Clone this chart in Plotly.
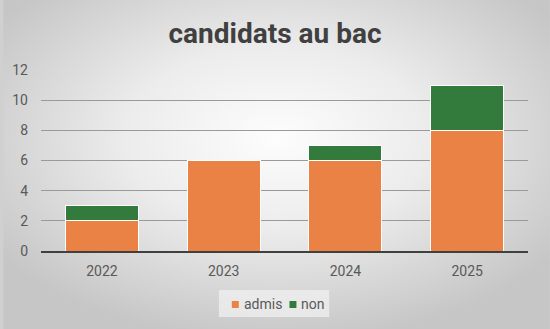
import base64
import plotly.graph_objects as go

years = ["2022", "2023", "2024", "2025"]
admis = [2, 6, 6, 8]
non = [1, 0, 1, 3]
series_names = ["admis", "non"]
series_colors = ["#EA8245", "#337A3D"]
title_text = "candidats au bac"

svg = (
    '<svg xmlns="http://www.w3.org/2000/svg" width="550" height="329" viewBox="0 0 550 329" preserveAspectRatio="none">'
    '<defs><radialGradient id="g" cx="50%" cy="42%" r="62%" gradientUnits="objectBoundingBox">'
    '<stop offset="0" stop-color="#fdfdfd"/><stop offset="0.45" stop-color="#ececec"/>'
    '<stop offset="1" stop-color="#c6c6c6"/></radialGradient></defs>'
    '<rect width="550" height="329" fill="url(#g)"/></svg>'
)
bg = "data:image/svg+xml;base64," + base64.b64encode(svg.encode()).decode()

fig = go.Figure()
for name, vals, col in zip(series_names, [admis, non], series_colors):
    fig.add_bar(x=years, y=vals, name=name, showlegend=False,
                marker=dict(color=col, line=dict(color="white", width=1)))

W, H = 550, 329
ml, mr, mt, mb = 38, 22, 70, 78
pw, ph = W - ml - mr, H - mt - mb


def px(x):
    return (x - ml) / pw


def py(y):
    return (H - mb - y) / ph


# custom legend (box, swatches, labels)
shapes = [dict(type="rect", xref="paper", yref="paper", x0=px(217), x1=px(328), y0=py(317), y1=py(290),
               fillcolor="rgba(240,240,240,0.75)", line=dict(width=0), layer="below")]
annotations = []
legend_x = [230, 288]
for name, col, lx in zip(series_names, series_colors, legend_x):
    shapes.append(dict(type="rect", xref="paper", yref="paper", x0=px(lx), x1=px(lx + 7),
                       y0=py(308), y1=py(301), fillcolor=col, line=dict(width=0)))
    annotations.append(dict(text=name, xref="paper", yref="paper", x=px(lx + 10), y=py(304),
                            xanchor="left", yanchor="middle", showarrow=False,
                            font=dict(size=14, color="#595959")))

fig.update_layout(
    width=W, height=H, autosize=False,
    margin=dict(l=ml, r=mr, t=mt, b=mb, pad=0),
    barmode="stack", bargap=0.4, showlegend=False,
    paper_bgcolor="#d0d0d0", plot_bgcolor="rgba(0,0,0,0)",
    font=dict(family="Roboto, Liberation Sans, sans-serif", size=14, color="#595959"),
    title=dict(text="<b>" + title_text + "</b>", x=0.5, xanchor="center", xref="container",
               y=1 - 33 / H, yanchor="middle", yref="container",
               font=dict(family="Roboto, sans-serif", size=28, color="#404040")),
    images=[dict(source=bg, xref="paper", yref="paper", x=-ml / pw, y=1 + mt / ph,
                 sizex=W / pw, sizey=H / ph, sizing="stretch", layer="below",
                 xanchor="left", yanchor="top")],
    shapes=shapes,
    annotations=annotations,
    xaxis=dict(showgrid=False, showline=True, linecolor="#404040", linewidth=2,
               ticks="", ticklabelstandoff=6, tickfont=dict(size=14, color="#595959")),
    yaxis=dict(range=[0, 12], dtick=2, showgrid=True, gridcolor="#9a9a9a", gridwidth=1,
               zeroline=False, showline=False, ticks="", ticklabelstandoff=12,
               tickfont=dict(size=14, color="#595959")),
)
fig.write_html("out.html")
